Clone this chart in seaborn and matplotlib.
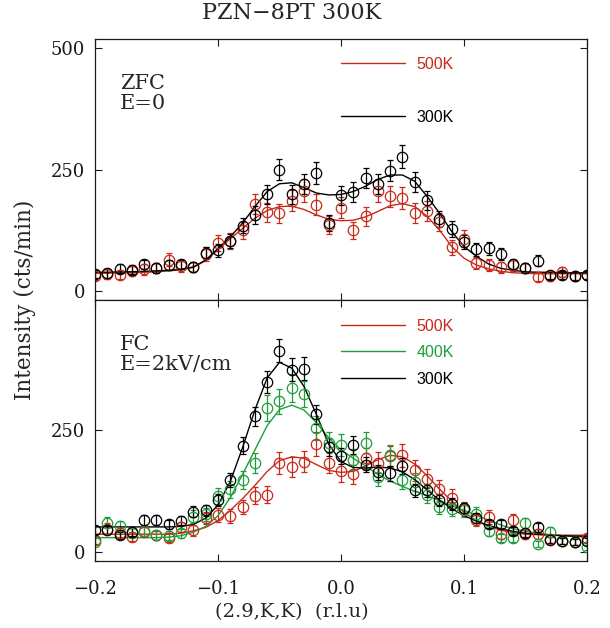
import matplotlib
matplotlib.use("Agg")
import matplotlib.pyplot as plt
import seaborn as sns
from matplotlib.lines import Line2D

# Q along (2.9,K,K), r.l.u
K = [-0.20, -0.19, -0.18, -0.17, -0.16, -0.15, -0.14, -0.13, -0.12, -0.11,
     -0.10, -0.09, -0.08, -0.07, -0.06, -0.05, -0.04, -0.03, -0.02, -0.01,
     0.00, 0.01, 0.02, 0.03, 0.04, 0.05, 0.06, 0.07, 0.08, 0.09,
     0.10, 0.11, 0.12, 0.13, 0.14, 0.15, 0.16, 0.17, 0.18, 0.19, 0.20]

# ZFC, E=0
zfc_300 = [35, 37, 46, 44, 55, 48, 54, 55, 50, 78, 84, 103, 135, 157, 199, 250, 199, 221, 243, 140,
           197, 204, 233, 221, 248, 277, 225, 187, 149, 128, 101, 86, 88, 76, 55, 48, 63, 34, 34, 32, 33]
zfc_300_err = [8, 9, 9, 9, 10, 10, 10, 10, 10, 12, 13, 14, 16, 18, 20, 22, 20, 21, 22, 17,
               20, 20, 21, 21, 22, 23, 21, 19, 17, 16, 14, 13, 13, 12, 10, 10, 11, 8, 8, 8, 8]
zfc_300_fit = [39, 39, 40, 40, 41, 42, 43, 45, 50, 64, 88, 112, 140, 174, 205, 221, 223, 213, 202, 198,
               199, 205, 216, 230, 239, 239, 226, 195, 161, 123, 92, 72, 56, 47, 43, 40, 39, 39, 38, 38, 38]
zfc_500 = [32, 36, 34, 42, 45, 48, 65, 51, 50, 76, 99, 103, 125, 179, 162, 160, 186, 207, 178, 136,
           172, 125, 154, 207, 195, 192, 161, 165, 142, 90, 108, 58, 54, 49, 54, 48, 30, 31, 39, 31, 33]
zfc_500_err = [9, 10, 9, 10, 11, 11, 13, 11, 11, 14, 16, 16, 18, 21, 20, 20, 22, 23, 21, 19,
               21, 18, 20, 23, 22, 22, 20, 21, 19, 15, 17, 12, 12, 11, 12, 11, 9, 9, 10, 9, 9]
zfc_500_fit = [37, 37, 38, 38, 39, 40, 42, 44, 49, 63, 85, 108, 129, 150, 166, 174, 175, 168, 157, 148,
               145, 146, 153, 164, 176, 180, 174, 154, 126, 92, 68, 54, 46, 41, 38, 37, 36, 36, 36, 36, 36]

# FC, E=2kV/cm
fc_300 = [46, 46, 35, 42, 66, 66, 57, 65, 83, 86, 107, 148, 219, 279, 350, 414, 375, 377, 283, 216,
          198, 220, 180, 164, 162, 177, 127, 127, 107, 99, 90, 71, 58, 58, 43, 39, 51, 25, 23, 21, 24]
fc_300_err = [8, 8, 7, 8, 10, 10, 9, 10, 11, 11, 12, 15, 18, 20, 22, 24, 23, 23, 20, 18,
              17, 18, 16, 15, 15, 16, 14, 14, 12, 12, 11, 10, 9, 9, 8, 8, 9, 6, 6, 6, 6]
fc_300_fit = [52, 52, 52, 52, 52, 52, 52, 53, 57, 70, 97, 145, 215, 292, 358, 390, 378, 340, 283, 222,
              186, 174, 173, 175, 173, 165, 149, 128, 107, 90, 75, 64, 55, 48, 43, 39, 37, 35, 34, 33, 33]
fc_400 = [22, 61, 54, 40, 44, 35, 34, 39, 73, 78, 115, 129, 148, 183, 296, 310, 337, 325, 255, 225,
          220, 190, 225, 155, 199, 148, 144, 118, 92, 89, 87, 79, 44, 30, 30, 59, 17, 41, 23, 22, 10]
fc_400_err = [7, 12, 11, 9, 10, 9, 9, 9, 13, 13, 16, 17, 18, 20, 26, 26, 28, 27, 24, 22,
              22, 21, 22, 19, 21, 18, 18, 16, 14, 14, 14, 13, 10, 8, 8, 12, 6, 10, 7, 7, 5]
fc_400_fit = [30, 30, 30, 30, 30, 30, 31, 34, 41, 53, 75, 112, 160, 210, 260, 293, 302, 292, 266, 235,
              210, 193, 177, 160, 146, 135, 125, 116, 106, 96, 86, 76, 66, 56, 48, 43, 39, 36, 34, 32, 31]
fc_500 = [25, 48, 39, 32, 42, 35, 30, 52, 45, 70, 76, 75, 93, 116, 118, 183, 175, 186, 222, 184,
          166, 160, 193, 184, 197, 199, 168, 151, 130, 112, 89, 66, 72, 37, 66, 37, 37, 27, 24, 22, 29]
fc_500_err = [8, 11, 10, 9, 10, 9, 9, 11, 11, 13, 14, 14, 15, 17, 17, 22, 21, 22, 24, 22,
              21, 20, 22, 22, 22, 23, 21, 20, 18, 17, 15, 13, 14, 10, 13, 10, 10, 8, 8, 8, 9]
fc_500_fit = [37, 37, 37, 37, 37, 37, 37, 39, 44, 51, 65, 86, 110, 137, 166, 188, 196, 193, 180, 168,
              164, 166, 177, 190, 199, 196, 181, 157, 130, 105, 82, 65, 53, 45, 40, 37, 36, 35, 35, 35, 35]

xtick_vals = [-0.2, -0.1, 0.0, 0.1, 0.2]
xtick_labels = ["\u22120.2", "\u22120.1", "0.0", "0.1", "0.2"]

RED = "#c82a18"
GREEN = "#1e9e3a"
BLACK = "#000000"

sns.set_theme(style="ticks")
plt.rcParams["font.family"] = ["DejaVu Serif"]

fig = plt.figure(figsize=(6.1, 6.28), dpi=100)
ax1 = fig.add_axes([0.1557, 0.5223, 0.8066, 0.4151])
ax2 = fig.add_axes([0.1557, 0.1067, 0.8066, 0.4156])


def draw(ax, vals, err, fit, color):
    ax.errorbar(K, vals, yerr=err, fmt="o", mfc="none", mec=color, ecolor=color,
                ms=7.5, mew=0.9, elinewidth=0.9, capsize=2, capthick=0.9)
    sns.lineplot(x=K, y=fit, ax=ax, color=color, lw=1.0, estimator=None)


draw(ax1, zfc_500, zfc_500_err, zfc_500_fit, RED)
draw(ax1, zfc_300, zfc_300_err, zfc_300_fit, BLACK)

draw(ax2, fc_500, fc_500_err, fc_500_fit, RED)
draw(ax2, fc_400, fc_400_err, fc_400_fit, GREEN)
draw(ax2, fc_300, fc_300_err, fc_300_fit, BLACK)

leg_kw = dict(loc="upper left", frameon=False, handlelength=4.0,
              handletextpad=0.75, labelspacing=0.72, borderpad=0, borderaxespad=0,
              prop={"family": "Liberation Sans", "size": 11.5})
ax1.legend([Line2D([], [], color=RED, lw=1), Line2D([], [], color="none"), Line2D([], [], color=BLACK, lw=1)],
           ["500K", "", "300K"], labelcolor=[RED, BLACK, BLACK], bbox_to_anchor=(0.5, 0.932), **leg_kw)
ax2.legend([Line2D([], [], color=RED, lw=1), Line2D([], [], color=GREEN, lw=1), Line2D([], [], color=BLACK, lw=1)],
           ["500K", "400K", "300K"], labelcolor=[RED, GREEN, BLACK], bbox_to_anchor=(0.5, 0.929), **leg_kw)

ax1.text(0.051, 0.866, "ZFC\nE=0", transform=ax1.transAxes, va="top", ha="left",
         fontsize=15, linespacing=1.05)
ax2.text(0.051, 0.866, "FC\nE=2kV/cm", transform=ax2.transAxes, va="top", ha="left",
         fontsize=15, linespacing=1.05)

for ax in (ax1, ax2):
    ax.set_xlim(-0.2, 0.2)
    ax.set_ylim(-18, 518)
    ax.set_xticks(xtick_vals)
    ax.set_xlabel("")
    ax.set_ylabel("")
    ax.tick_params(direction="in", top=True, right=True, length=5, width=0.8,
                   labelsize=13, color="k", labelcolor="k")
    ax.tick_params(axis="y", pad=7)
    for s in ax.spines.values():
        s.set_linewidth(0.9)
        s.set_color("k")

ax1.set_yticks([0, 250, 500])
ax1.set_xticklabels([])
ax2.set_yticks([0, 250])
ax2.set_xticklabels(xtick_labels)
ax2.tick_params(axis="x", pad=14)

fig.text(0.478, 0.980, "PZN\u22128PT 300K", ha="center", va="center", fontsize=16)
fig.text(0.478, 0.025, "(2.9,K,K)  (r.l.u)", ha="center", va="center", fontsize=14)
fig.text(0.041, 0.522, "Intensity (cts/min)", ha="center", va="center", rotation=90, fontsize=15.5)

fig.savefig("out.png", dpi=100)
